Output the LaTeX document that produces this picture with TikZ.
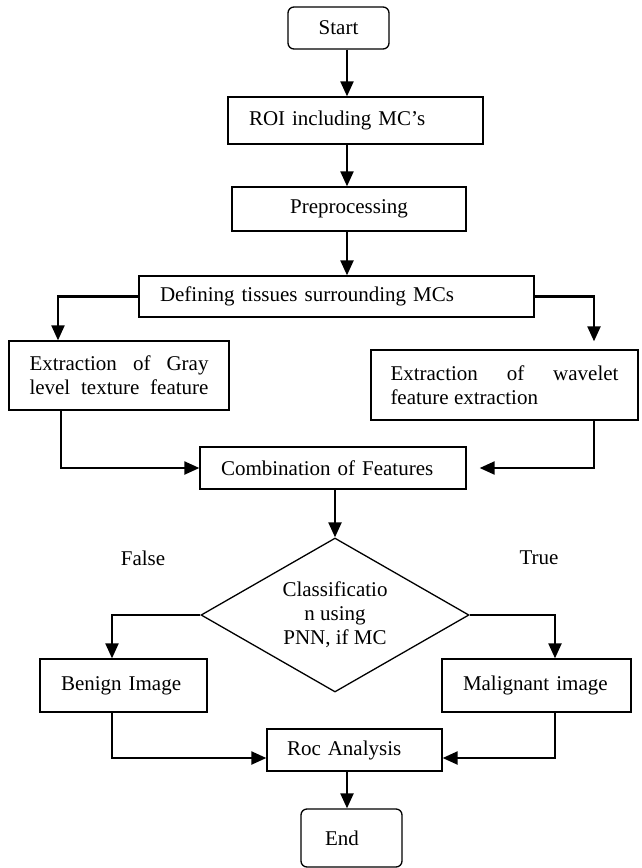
\documentclass[tikz,border=0pt]{standalone}
\usepackage{fontspec}
\setmainfont{Liberation Serif}
\usetikzlibrary{arrows.meta,shapes.geometric}
\tolerance=10000
\hyphenpenalty=10000
\exhyphenpenalty=10000

\begin{document}
\begin{tikzpicture}[x=1pt,y=-1pt,
    box/.style={draw,line width=1.3pt,inner sep=0pt,
                font=\fontsize{21}{24}\selectfont},
    term/.style={box,rounded corners=6pt},
    flow/.style={line width=2.2pt,-{Triangle[length=15pt,width=13pt]}},
    lbl/.style={font=\fontsize{21}{24}\selectfont}]

    \useasboundingbox (0,0) rectangle (641,868);

    % columns of the connectors
    \coordinate (spine)  at (347,0);
    \coordinate (leftA)  at (58,0);
    \coordinate (leftB)  at (61,0);
    \coordinate (rightA) at (594,0);
    \coordinate (leftC)  at (112,0);
    \coordinate (rightC) at (555,0);

    % top column
    \node[term,minimum width=101pt,minimum height=42pt] (start) at (338.5,28) {Start};
    \node[box,text width=213pt,inner xsep=21pt,minimum height=47pt,align=left]
        (roi) at (355.5,120.5) {ROI including MC's};
    \node[box,minimum width=234pt,minimum height=44pt] (prep) at (349,209) {Preprocessing};
    \node[box,text width=353pt,inner xsep=21pt,minimum height=41pt,align=left]
        (def) at (336.5,296.5) {Defining tissues surrounding MCs};

    % feature boxes
    \node[box,text width=179pt,inner xsep=20.5pt,minimum height=69pt,align=justify]
        (gray) at (119,375.5) {{\parfillskip=0pt Extraction of Gray level texture feature\par}};
    \node[box,text width=228pt,inner xsep=19.5pt,minimum height=70pt,align=justify]
        (wav) at (504.5,385) {Extraction of wavelet feature extraction};
    \node[box,text width=224pt,inner xsep=21pt,minimum height=42pt,align=left]
        (comb) at (333,468) {Combination of Features};

    % decision
    \node[box,diamond,aspect=1.74,minimum width=268pt,minimum height=154pt,align=center]
        (dec) at (335,615) {Classificatio\\n using\\PNN, if MC};
    \node[lbl] (lblfalse) at (143,558) {False};
    \node[lbl] (lbltrue)  at (539,558) {True};

    % results
    \node[box,text width=125pt,inner xsep=21pt,minimum height=53pt,align=left]
        (benign) at (123.5,685.5) {Benign Image};
    \node[box,text width=147pt,inner xsep=21pt,minimum height=53pt,align=left]
        (malig) at (536.5,685.5) {Malignant image};
    \node[box,text width=135pt,inner xsep=20pt,minimum height=42pt,align=left]
        (roc) at (354.5,750) {Roc Analysis};
    \node[term,text width=53pt,inner xsep=24pt,minimum height=58pt,align=left]
        (end) at (351.5,838) {End};

    % connectors
    \draw[flow] (start.south -| spine) -- (roi.north -| spine);
    \draw[flow] (roi.south -| spine) -- (prep.north -| spine);
    \draw[flow] (prep.south -| spine) -- (def.north -| spine);
    \draw[flow] (def.west) -| (gray.north -| leftA);
    \draw[flow,shorten >=8pt] (def.east) -| (wav.north -| rightA);
    \draw[flow] (gray.south -| leftB) |- (comb.west);
    \draw[flow,shorten >=13pt] (wav.south -| rightA) |- (comb.east);
    \draw[flow] (comb.south -| dec.north) -- (dec.north);
    \draw[flow] (dec.west) -| (benign.north -| leftC);
    \draw[flow] (dec.east) -| (malig.north -| rightC);
    \draw[flow] (benign.south -| leftC) |- ([yshift=-8pt]roc.west);
    \draw[flow] (malig.south -| rightC) |- ([yshift=-8pt]roc.east);
    \draw[flow] (roc.south -| spine) -- (end.north -| spine);
\end{tikzpicture}
\end{document}
